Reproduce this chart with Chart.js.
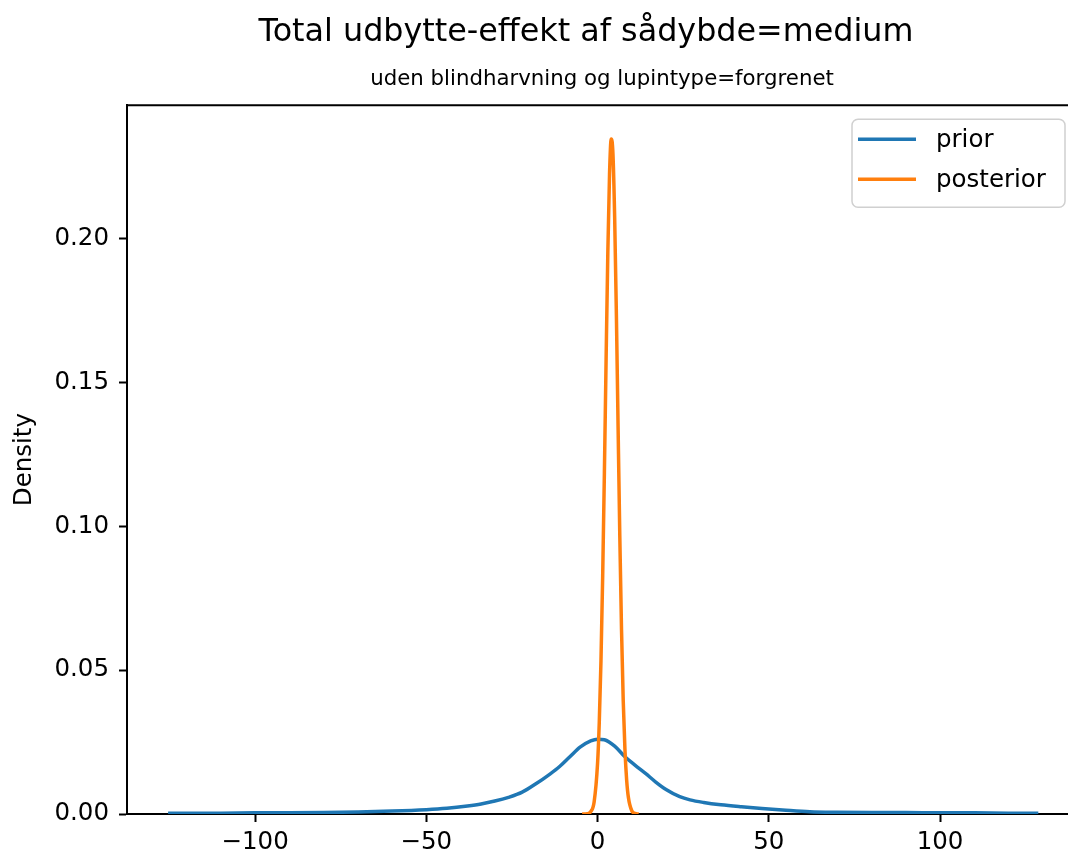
<!DOCTYPE html>
<html>
<head>
  <title>Total udbytte-effekt</title>
  <script src="https://cdn.jsdelivr.net/npm/chart.js"></script>
  <style>
    body {
      margin: 0;
      background: #fff;
      overflow: hidden;
      font-family: 'DejaVu Sans', sans-serif;
    }
    #wrap {
      width: 1172px;
      height: 856px;
    }
  </style>
</head>
<body>
  <div id="wrap"><canvas id="myChart"></canvas></div>

  <script>
    // values (kde curves)
    const priorX = [-125.4, -110, -100, -90, -80, -70, -60, -50, -44, -38, -34, -30, -26, -22, -18, -14, -11, -8, -5, -2, 0, 2, 5, 8, 11, 14, 17, 20, 24, 27, 31, 36, 42, 48, 55, 62, 70, 80, 90, 100, 110, 120, 128.7];
    const priorY = [0.0003, 0.0003, 0.0004, 0.0004, 0.0005, 0.0007, 0.0010, 0.0015, 0.0020, 0.0028, 0.0035, 0.0045, 0.0058, 0.0076, 0.0105, 0.0138, 0.0166, 0.0200, 0.0233, 0.0254, 0.0260, 0.0258, 0.0236, 0.0199, 0.0169, 0.0141, 0.0111, 0.0085, 0.0060, 0.0049, 0.0040, 0.0032, 0.0025, 0.0019, 0.0013, 0.0008, 0.0006, 0.0005, 0.0005, 0.0004, 0.0004, 0.0003, 0.0003];

    const postX = [-4.5, -3, -2, -1, 0, 0.5, 1, 1.5, 2, 2.5, 3, 3.5, 4, 4.5, 5, 5.5, 6, 6.5, 7, 7.5, 8, 8.5, 9, 10, 11, 12];
    const postY = [0, 0.0001, 0.0008, 0.0042, 0.0175, 0.0317, 0.0532, 0.0827, 0.1187, 0.1582, 0.1950, 0.2224, 0.2346, 0.2293, 0.2072, 0.1735, 0.1343, 0.0964, 0.0640, 0.0393, 0.0224, 0.0118, 0.0058, 0.0011, 0.0002, 0];

    const xTicks = [-100, -50, 0, 50, 100];
    const yTicks = [0, 0.05, 0.10, 0.15, 0.20];

    const FONT = 'DejaVu Sans';

    // top spine + legend box inside the axes (matplotlib style)
    const framePlugin = {
      id: 'frame',
      afterDraw(chart) {
        const { ctx, chartArea: a } = chart;
        ctx.save();
        ctx.strokeStyle = '#000';
        ctx.lineWidth = 2;
        ctx.beginPath();
        ctx.moveTo(a.left - 1, a.top);
        ctx.lineTo(chart.width, a.top);
        ctx.stroke();

        // legend
        const w = 213, h = 88;
        const bx = a.right - 12 - w, by = a.top + 14;
        ctx.fillStyle = 'rgba(255,255,255,0.8)';
        ctx.strokeStyle = '#d0d0d0';
        ctx.lineWidth = 1.5;
        ctx.beginPath();
        ctx.roundRect(bx, by, w, h, 6);
        ctx.fill();
        ctx.stroke();
        ctx.font = '24.5px "' + FONT + '"';
        ctx.textBaseline = 'middle';
        chart.data.datasets.forEach((ds, i) => {
          const ly = by + 20 + i * 40;
          ctx.strokeStyle = ds.borderColor;
          ctx.lineWidth = 3.5;
          ctx.beginPath();
          ctx.moveTo(bx + 6, ly);
          ctx.lineTo(bx + 64, ly);
          ctx.stroke();
          ctx.fillStyle = '#000';
          ctx.fillText(ds.label, bx + 84, ly + 1);
        });
        ctx.restore();
      }
    };

    new Chart(document.getElementById('myChart'), {
      type: 'line',
      data: {
        datasets: [
          { label: 'prior', data: priorX.map((x, i) => ({ x, y: priorY[i] })), borderColor: '#1f77b4', borderWidth: 3.5, pointRadius: 0, cubicInterpolationMode: 'monotone', order: 1 },
          { label: 'posterior', data: postX.map((x, i) => ({ x, y: postY[i] })), borderColor: '#ff7f0e', borderWidth: 3.5, pointRadius: 0, cubicInterpolationMode: 'monotone', order: 0 }
        ]
      },
      options: {
        responsive: true,
        maintainAspectRatio: false,
        animation: false,
        layout: { padding: 0 },
        plugins: {
          legend: { display: false },
          tooltip: { enabled: false },
          title: {
            display: true,
            text: 'Total udbytte-effekt af sådybde=medium',
            color: '#000',
            font: { family: FONT, size: 31.8, weight: 'normal' },
            padding: { top: 13.5, bottom: 15 }
          },
          subtitle: {
            display: true,
            fullSize: false,
            text: 'uden blindharvning og lupintype=forgrenet',
            color: '#000',
            font: { family: FONT, size: 21.3, weight: 'normal' },
            padding: { top: 0, bottom: 13 }
          }
        },
        scales: {
          x: {
            type: 'linear',
            min: -137.4,
            max: 140,
            afterBuildTicks: s => { s.ticks = xTicks.map(v => ({ value: v })); },
            afterFit: s => { s.height = 42; },
            border: { color: '#000', width: 2 },
            grid: { drawOnChartArea: false, tickLength: 8, tickColor: '#000', tickWidth: 2 },
            ticks: {
              color: '#000',
              padding: 6,
              maxRotation: 0,
              font: { family: FONT, size: 24.5 },
              callback: v => String(v).replace('-', '\u2212')
            }
          },
          y: {
            min: 0,
            max: 0.2463,
            afterBuildTicks: s => { s.ticks = yTicks.map(v => ({ value: v })); },
            afterFit: s => { s.width = 127; },
            border: { color: '#000', width: 2 },
            grid: { drawOnChartArea: false, tickLength: 8, tickColor: '#000', tickWidth: 2 },
            title: {
              display: true,
              text: 'Density',
              color: '#000',
              font: { family: FONT, size: 24.5 },
              padding: { top: 10, bottom: 0 }
            },
            ticks: {
              color: '#000',
              padding: 10,
              font: { family: FONT, size: 24.5 },
              callback: v => v.toFixed(2)
            }
          },
          // empty right box so the axes stop where the (cropped) right spine is
          yRight: {
            position: 'right',
            display: true,
            afterFit: s => { s.width = 95; },
            border: { display: false },
            grid: { display: false },
            ticks: { display: false }
          }
        }
      },
      plugins: [framePlugin]
    });
  </script>
</body>
</html>
